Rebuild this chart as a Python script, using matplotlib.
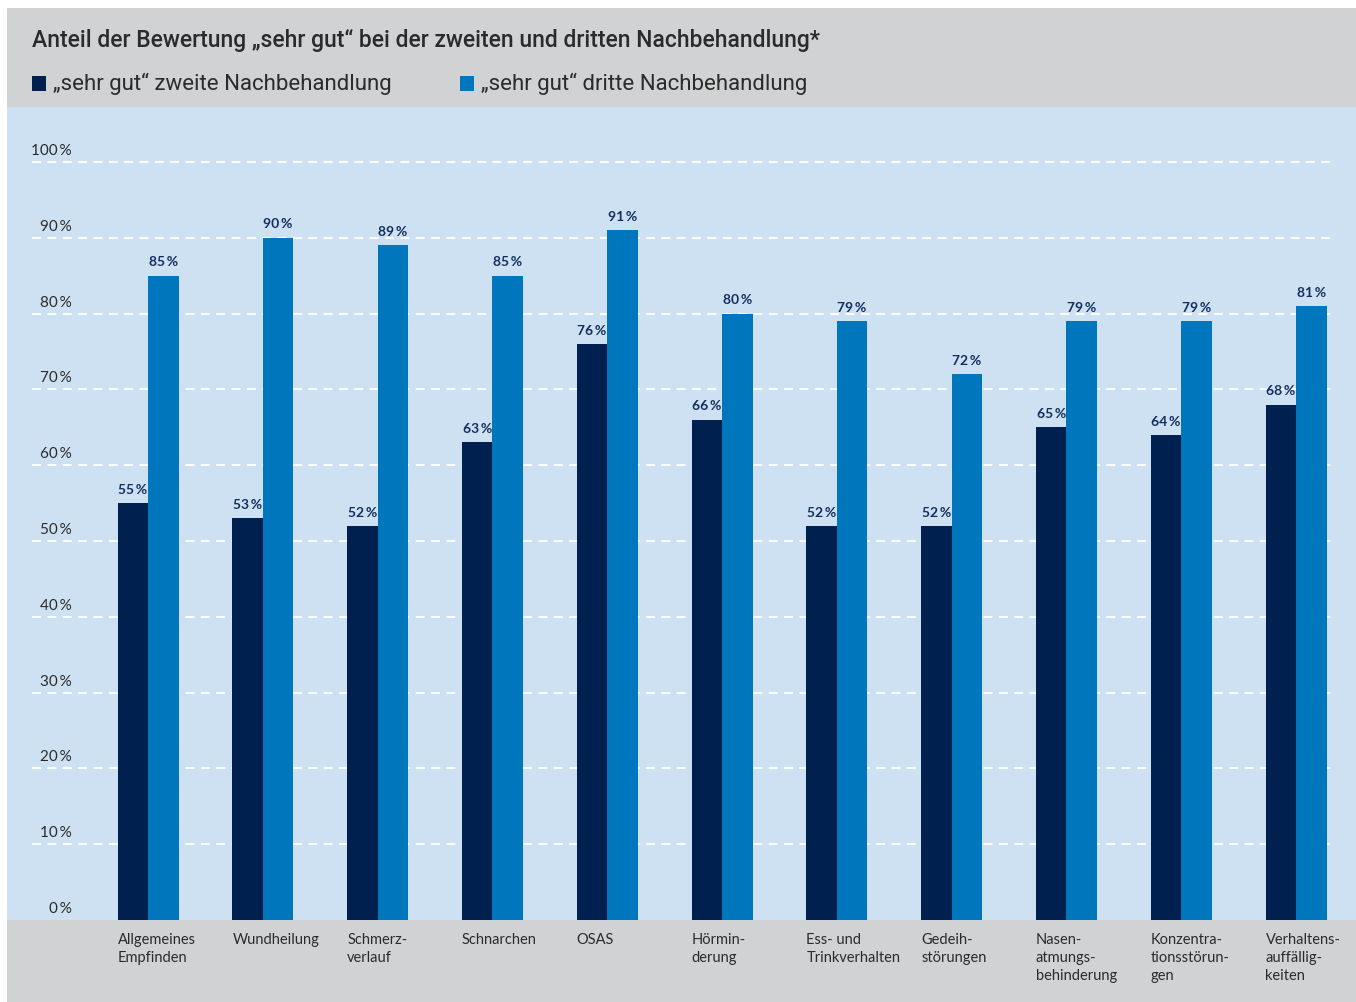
import matplotlib.pyplot as plt
import matplotlib.patches as mpatches
import numpy as np

kategorien = ["Allgemeines\nEmpfinden", "Wundheilung", "Schmerz-\nverlauf", "Schnarchen",
              "OSAS", "Hörmin-\nderung", "Ess- und\nTrinkverhalten", "Gedeih-\nstörungen",
              "Nasen-\natmungs-\nbehinderung", "Konzentra-\ntionsstörun-\ngen",
              "Verhaltens-\nauffällig-\nkeiten"]
zweite = [55, 53, 52, 63, 76, 66, 52, 52, 65, 64, 68]
dritte = [85, 90, 89, 85, 91, 80, 79, 72, 79, 79, 81]
yticks = [0, 10, 20, 30, 40, 50, 60, 70, 80, 90, 100]

dunkel = "#00214f"
blau = "#0077bd"
hellblau = "#cee1f2"
grau = "#d1d2d4"
textfarbe = "#2b2b2b"
labelfarbe = "#132f5e"

W, H = 1356, 1003
fig = plt.figure(figsize=(W / 100, H / 100), dpi=100)
fig.patch.set_facecolor("white")

# grauer Hintergrund
fig.patches.append(mpatches.Rectangle((7 / W, 0), 1 - 7 / W, 1 - 9 / H,
                                      transform=fig.transFigure, facecolor=grau,
                                      edgecolor="none", zorder=-10))

fam = ["Lato", "DejaVu Sans"]
fam_titel = ["Roboto", "DejaVu Sans"]

fig.text(32 / W, 1 - 41 / H, "Anteil der Bewertung „sehr gut“ bei der zweiten und dritten Nachbehandlung*",
         fontsize=16.5, family=fam_titel, fontweight="medium", color=textfarbe, va="center", ha="left")

# Legende
for x0, farbe, txt in [(32, dunkel, "„sehr gut“ zweite Nachbehandlung"),
                       (460, blau, "„sehr gut“ dritte Nachbehandlung")]:
    fig.patches.append(mpatches.Rectangle((x0 / W, 1 - 92 / H), 14 / W, 15 / H,
                                          transform=fig.transFigure, facecolor=farbe,
                                          edgecolor="none"))
    fig.text((x0 + 21) / W, 1 - 84 / H, txt, fontsize=16, family=fam_titel,
             color=textfarbe, va="center", ha="left")

# Diagrammbereich
left, right, top, bottom = 7, W, 108, 921
ax = fig.add_axes([left / W, 1 - bottom / H, (right - left) / W, (bottom - top) / H])
ax.set_facecolor(hellblau)
for s in ax.spines.values():
    s.set_visible(False)

px_per_unit = 114.8
x = np.arange(len(kategorien))
ax.set_xlim(-(148 - left) / px_per_unit, 10 + (right - 1296) / px_per_unit)
px_per_pct = (921 - 163) / 100
ax.set_ylim(0, (bottom - top) / px_per_pct)
ax.set_xticks([])
ax.set_yticks([])

bw = 30.5 / px_per_unit
ax.bar(x - bw / 2, zweite, width=bw, color=dunkel, zorder=3)
ax.bar(x + bw / 2, dritte, width=bw, color=blau, zorder=3)

# Gitterlinien
g0 = (32 - left) / (right - left)
g1 = (1336 - left) / (right - left)
for v in yticks[1:]:
    ax.axhline(v, xmin=g0, xmax=g1, color="white", lw=1.3, ls=(0, (5, 3.5)), zorder=1)

for v in yticks:
    ax.text((72 - left) / (right - left), v + 12 / px_per_pct, f"{v}\u2009%",
            transform=ax.get_yaxis_transform(), ha="right", va="center",
            fontsize=11, family=fam, color=textfarbe)

# Werte
for xi, a, b in zip(x, zweite, dritte):
    for xx, val in [(xi - bw / 2, a), (xi + bw / 2, b)]:
        ax.annotate(f"{val}\u2009%", (xx, val), xytext=(0, 6), textcoords="offset points",
                    ha="center", va="bottom", fontsize=10, fontweight="bold",
                    family=fam, color=labelfarbe, zorder=4)

# Kategorien
for xi, k in zip(x, kategorien):
    ax.annotate(k, (xi - bw, 0), xytext=(0, -9), textcoords="offset points",
                ha="left", va="top", fontsize=10.5, family=fam, color=textfarbe,
                linespacing=1.35, annotation_clip=False)

fig.savefig("out.png", dpi=100)
